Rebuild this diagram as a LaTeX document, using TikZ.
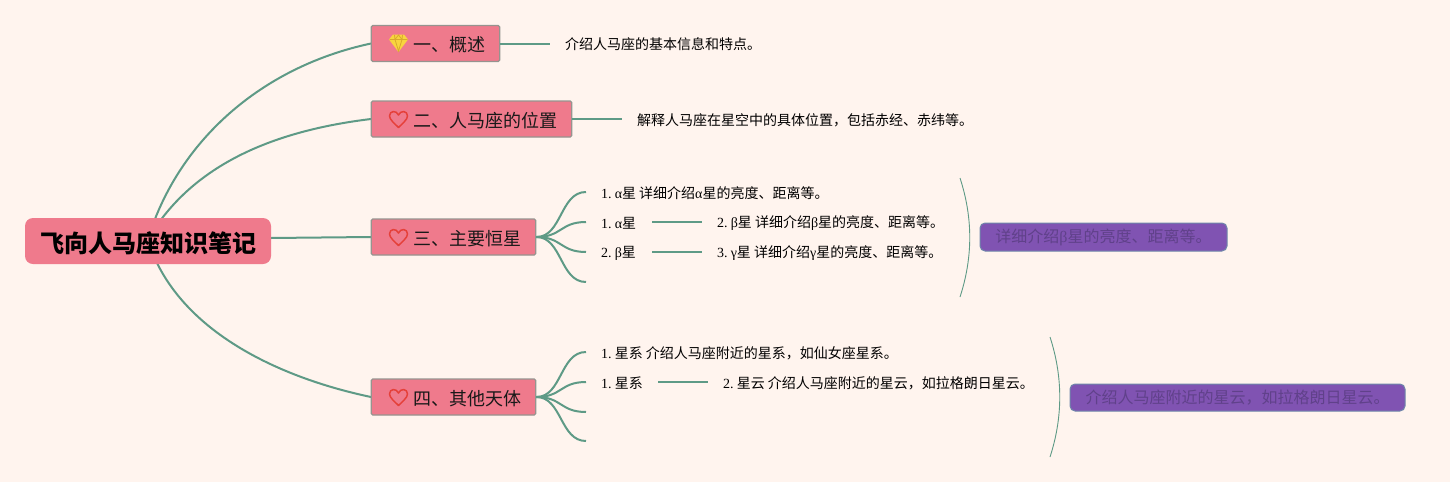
\documentclass[tikz,border=0pt]{standalone}
\usepackage{fontspec}
\setmainfont{Liberation Serif}
\newfontfamily\cjk{Noto Sans CJK SC}
\newcommand{\Ck}[1]{{\cjk #1}}
\newcommand{\Sk}{\hspace{3.1pt}}
\definecolor{bgc}{HTML}{FFF4EE}
\definecolor{pinkc}{HTML}{EF7A8C}
\definecolor{linec}{HTML}{5E9A86}
\definecolor{edgec}{HTML}{96948F}
\definecolor{purc}{HTML}{8053B2}
\definecolor{puredge}{HTML}{6F86AA}
\definecolor{purtxt}{HTML}{60418A}
\definecolor{heartc}{HTML}{E5403A}
\definecolor{gemc}{HTML}{F8D53E}
\definecolor{gemline}{HTML}{D9A92E}
\tikzset{
  rootbox/.style={fill=pinkc,rounded corners=8pt,inner sep=0pt,minimum height=46pt},
  roottext/.style={inner sep=0pt,text=black,font=\fontsize{24}{28}\selectfont},
  topicbox/.style={draw=edgec,line width=1.3pt,fill=pinkc,rounded corners=1.5pt,inner sep=0pt,minimum height=36pt},
  topictext/.style={anchor=west,inner sep=0pt,font=\fontsize{18}{22}\selectfont,text=black!90},
  notebox/.style={draw=puredge,line width=1pt,fill=purc,rounded corners=5pt,inner sep=0pt,text=purtxt,font=\fontsize{16}{20}\selectfont},
  leaf/.style={anchor=west,inner sep=0pt,text=black,font=\fontsize{14}{16}\selectfont},
  conn/.style={draw=linec,line width=2pt},
  thinconn/.style={draw=linec,line width=0.9pt},
  iconline/.style={line width=1.5pt,line join=round}
}
\begin{document}
\begin{tikzpicture}[x=1pt,y=-1pt]
\useasboundingbox[fill=bgc] (0,0) rectangle (1450,482);
% connectors' free ends
\coordinate (r1) at (155,219);
\coordinate (r2) at (160,221);
\coordinate (r3) at (271,238);
\coordinate (r4) at (157,263);
\coordinate (e1) at (550,43.5);
\coordinate (e2) at (622,119);
\foreach \n/\y in {a/192,b/222,c/252,d/282,p/352,q/382,s/412,t/441}{\coordinate (b\n) at (586,\y);}
\coordinate (l1s) at (652,222);\coordinate (l1e) at (702,222);
\coordinate (l2s) at (652,252);\coordinate (l2e) at (702,252);
\coordinate (l3s) at (658,382);\coordinate (l3e) at (708,382);
\coordinate (br1a) at (960,178);\coordinate (br1b) at (960,297);
\coordinate (br2a) at (1050,337);\coordinate (br2b) at (1050,457);
% main branches (under the nodes)
\draw[conn] (r1) .. controls (190,130) and (270,65) .. (371,43.5);
\draw[conn] (r2) .. controls (205,160) and (280,130) .. (371,119);
\draw[conn] (r3) -- (371,237);
\draw[conn] (r4) .. controls (195,340) and (290,380) .. (371,397);
% nodes
\node[rootbox,minimum width=246pt] (root) at (148,241) {};
\node[roottext] (rt) at (148.5,243) {\Ck{\bfseries 飞向人马座知识笔记}};
\node[topicbox,minimum width=128.5pt] (n1) at (435.5,43.5) {};
\node[topicbox,minimum width=200.5pt] (n2) at (471.5,119) {};
\node[topicbox,minimum width=164.5pt] (n3) at (453.5,237) {};
\node[topicbox,minimum width=164.5pt] (n4) at (453.5,397) {};
\node[topictext] (t1) at (413,44.5) {\Ck{一、概述}};
\node[topictext] (t2) at (413,120.5) {\Ck{二、人马座的位置}};
\node[topictext] (t3) at (413,238.5) {\Ck{三、主要恒星}};
\node[topictext] (t4) at (413,398.5) {\Ck{四、其他天体}};
\node[notebox,minimum width=247pt,minimum height=28pt] (p1) at (1103.5,237) {\Ck{详细介绍}β\Ck{星的亮度、距离等。}};
\node[notebox,minimum width=335pt,minimum height=27pt] (p2) at (1237.5,397.5) {\Ck{介绍人马座附近的星云，如拉格朗日星云。}};
% leaf texts
\node[leaf] (x1) at (565,44.5) {\Ck{介绍人马座的基本信息和特点。}};
\node[leaf] (x2) at (637,120) {\Ck{解释人马座在星空中的具体位置，包括赤经、赤纬等。}};
\node[leaf] (x3) at (601,193.5) {1.\Sk α\Ck{星\Sk 详细介绍}α\Ck{星的亮度、距离等。}};
\node[leaf] (x4) at (601,223.5) {1.\Sk α\Ck{星}};
\node[leaf] (x5) at (717,223.5) {2.\Sk β\Ck{星\Sk 详细介绍}β\Ck{星的亮度、距离等。}};
\node[leaf] (x6) at (601,253.5) {2.\Sk β\Ck{星}};
\node[leaf] (x7) at (717,253.5) {3.\Sk γ\Ck{星\Sk 详细介绍}γ\Ck{星的亮度、距离等。}};
\node[leaf] (x8) at (601,353.5) {1.\Sk\Ck{星系\Sk 介绍人马座附近的星系，如仙女座星系。}};
\node[leaf] (x9) at (601,383.5) {1.\Sk\Ck{星系}};
\node[leaf] (x10) at (723,383.5) {2.\Sk\Ck{星云\Sk 介绍人马座附近的星云，如拉格朗日星云。}};
% outgoing connectors
\draw[conn] (n1.east) -- (e1);
\draw[conn] (n2.east) -- (e2);
\foreach \e in {ba,bb,bc,bd}{\draw[conn] (n3.east) .. controls (562,237) and (560,|-\e) .. (\e);}
\foreach \e in {bp,bq,bs,bt}{\draw[conn] (n4.east) .. controls (562,397) and (560,|-\e) .. (\e);}
\draw[conn] (l1s) -- (l1e);
\draw[conn] (l2s) -- (l2e);
\draw[conn] (l3s) -- (l3e);
% brackets
\draw[thinconn] (br1a) .. controls (973,218) and (973,257) .. (br1b);
\draw[thinconn] (br2a) .. controls (1063,377) and (1063,417) .. (br2b);
% icons
\begin{scope}[shift={(398.5,43)}]
  \fill[gemc] (-5.5,-8.5) -- (5.5,-8.5) -- (9.5,-3.5) -- (0,9) -- (-9.5,-3.5) -- cycle;
  \draw[line width=0.8pt,draw=gemline] (-9,-3.5) -- (9,-3.5) (-4,-8) -- (-3.5,-3.5) -- (0,8) -- (3.5,-3.5) -- (4,-8) (-3.5,-3.5) -- (0,-8) -- (3.5,-3.5);
\end{scope}
\foreach \cx/\cy in {398.5/119.5,398.5/237.5,398.5/397.5}{
\begin{scope}[shift={(\cx,\cy)}]
  \draw[iconline,draw=heartc] (0,8) .. controls (-4,4) and (-9,0) .. (-9,-3.5) .. controls (-9,-9) and (-2,-9.5) .. (0,-4.5) .. controls (2,-9.5) and (9,-9) .. (9,-3.5) .. controls (9,0) and (4,4) .. (0,8) -- cycle;
\end{scope}}
\end{tikzpicture}
\end{document}
